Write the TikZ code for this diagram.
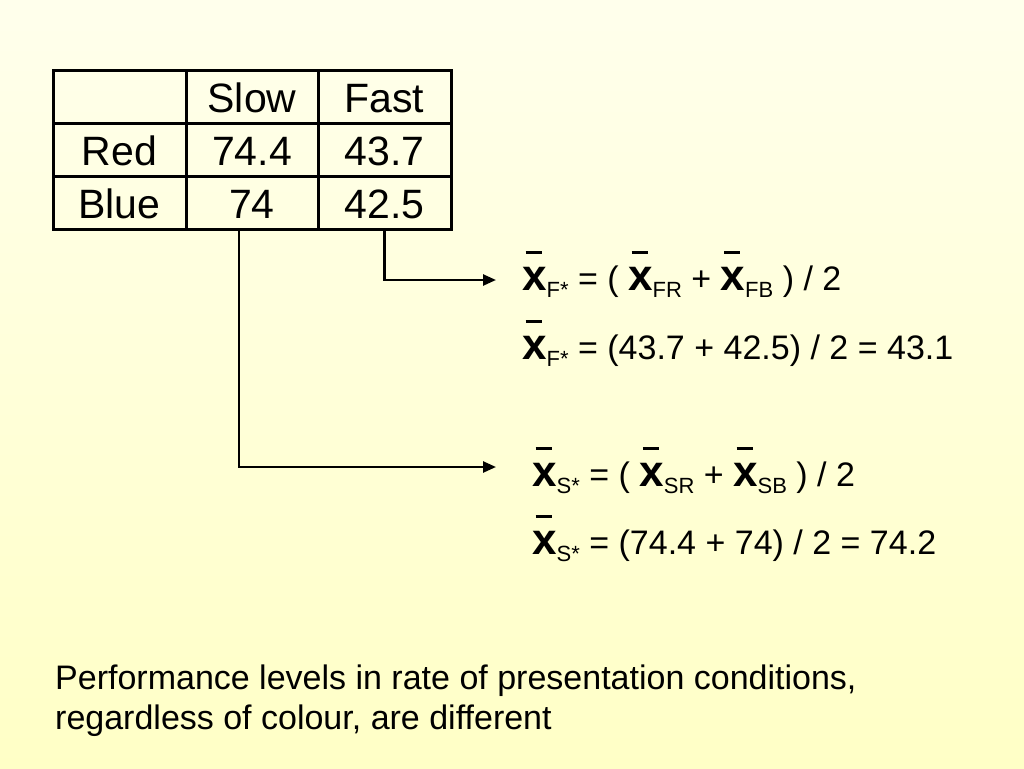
\documentclass[tikz,border=0pt]{standalone}
\usepackage{fontspec}
\setmainfont{Liberation Sans}
\usetikzlibrary{arrows.meta}
\definecolor{bgtop}{RGB}{255,255,236}
\definecolor{bgbot}{RGB}{255,255,198}
\newcommand\xb[1]{{\fontsize{44}{44}\selectfont\makebox[0pt][l]{\hspace{3.5pt}\rule[36pt]{16pt}{3pt}}\textbf{x}}\raisebox{-7pt}{\fontsize{22}{22}\selectfont #1}}
\tikzset{
  tbl/.style={line width=3pt, line cap=rect},
  cell/.style={anchor=base, inner sep=0pt, font=\fontsize{41}{41}\selectfont},
  eq/.style={anchor=base west, inner sep=0pt, font=\fontsize{34}{34}\selectfont},
  conn/.style={line width=2.5pt, -{Triangle[length=13pt,width=11pt]}},
  note/.style={anchor=base west, inner sep=0pt, align=left, font=\fontsize{34}{40}\selectfont}
}
\begin{document}
\begin{tikzpicture}[x=1pt,y=-1pt]
\shade[top color=bgtop, bottom color=bgbot] (0,0) rectangle (1024,768);
\useasboundingbox (0,0) rectangle (1024,768);
% table
\draw[tbl] (53,70) rectangle (451,229);
\draw[tbl] (186,70) -- (186,229);
\draw[tbl] (318,70) -- (318,229);
\draw[tbl] (53,123) -- (451,123);
\draw[tbl] (53,176) -- (451,176);
\node[cell] (hs) at (252,112) {Slow};
\node[cell] (hf) at (384.5,112) {Fast};
\node[cell] (rr) at (119.5,165) {Red};
\node[cell] (rs) at (252,165) {74.4};
\node[cell] (rf) at (384.5,165) {43.7};
\node[cell] (br) at (119.5,218) {Blue};
\node[cell] (bs) at (252,218) {74};
\node[cell] (bf) at (384.5,218) {42.5};
% formulas
\node[eq] (f1) at (522,290) {\xb{F*} = ( \xb{FR} + \xb{FB} ) / 2};
\node[eq] (f2) at (522,359) {\xb{F*} = (43.7 + 42.5) / 2 = 43.1};
\node[eq] (s1) at (532,486) {\xb{S*} = ( \xb{SR} + \xb{SB} ) / 2};
\node[eq] (s2) at (532,554) {\xb{S*} = (74.4 + 74) / 2 = 74.2};
% connectors
\coordinate (fstart) at (384.5,229);
\coordinate (fend) at (496,280);
\coordinate (sstart) at (239,229);
\coordinate (send) at (496,467);
\draw[conn] (fstart) |- (fend);
\draw[conn] (sstart) |- (send);
% note
\node[note] (n) at (55,729) {Performance levels in rate of presentation conditions,\\regardless of colour, are different};
\end{tikzpicture}
\end{document}
